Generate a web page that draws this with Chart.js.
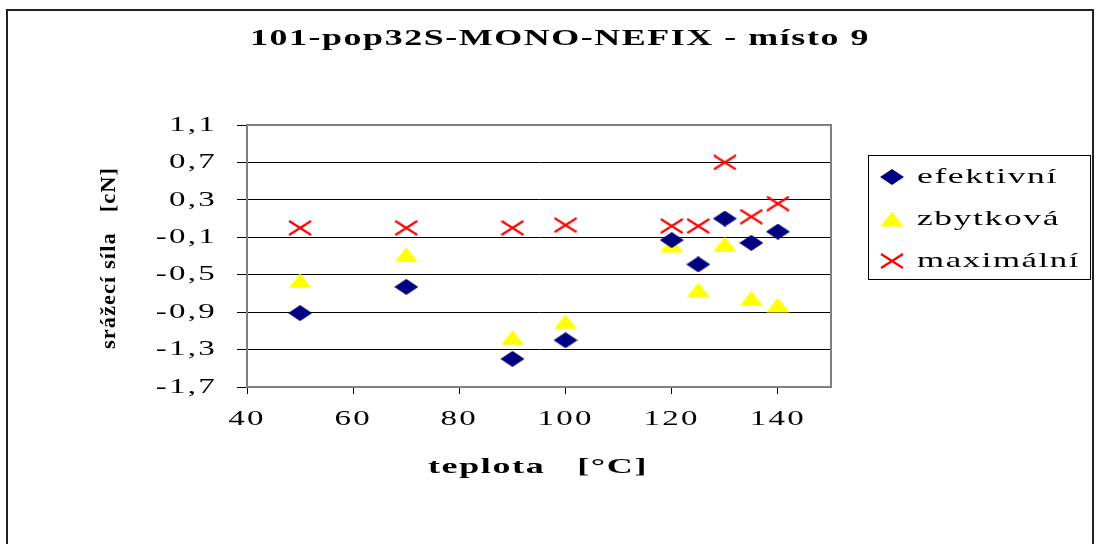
<!DOCTYPE html>
<html>
<head>
<meta charset="utf-8">
<script src="https://cdn.jsdelivr.net/npm/chart.js@4"></script>
<style>
  html, body { margin: 0; padding: 0; background: #fff; overflow: hidden; }
  #frame { position: absolute; left: 6px; top: 9px; width: 1084px; height: 560px; border: 2px solid #222; border-bottom: none; }
  canvas { position: absolute; left: 0; top: 0; }
</style>
</head>
<body>
<div id="frame"></div>
<canvas id="chart" width="1098" height="544"></canvas>
<script>
// data
const teplota = [50, 70, 90, 100, 120, 125, 130, 135, 140];
const efektivni = [-0.91, -0.63, -1.40, -1.20, -0.13, -0.39, 0.10, -0.16, -0.04];
const zbytkova = [-0.56, -0.28, -1.17, -1.00, -0.18, -0.66, -0.17, -0.75, -0.82];
const maximalni = [0.00, 0.00, 0.00, 0.03, 0.02, 0.02, 0.70, 0.12, 0.26];

const xTicks = [40, 60, 80, 100, 120, 140];
const yTicks = [-1.7, -1.3, -0.9, -0.5, -0.1, 0.3, 0.7, 1.1];

const seriesNames = ['efektivní', 'zbytková', 'maximální'];
const titleText = '101-pop32S-MONO-NEFIX - místo 9';
const xTitle = 'teplota   [°C]';
const yTitle = 'srážecí síla   [cN]';

const FONT = "'Liberation Serif', 'Times New Roman', serif";

// marker images (Excel markers are wider than tall)
function makeMarker(kind) {
    const c = document.createElement('canvas');
    c.width = 24; c.height = 16;
    const g = c.getContext('2d');
    if (kind === 'diamond') {
        g.fillStyle = '#000080';
        g.beginPath();
        g.moveTo(12, 0); g.lineTo(24, 8); g.lineTo(12, 16); g.lineTo(0, 8);
        g.closePath(); g.fill();
    } else if (kind === 'triangle') {
        g.fillStyle = '#ffff00';
        g.beginPath();
        g.moveTo(12, 1); g.lineTo(23.5, 15.5); g.lineTo(0.5, 15.5);
        g.closePath(); g.fill();
    } else {
        g.strokeStyle = '#ff0000';
        g.lineWidth = 2.2;
        g.beginPath();
        g.moveTo(1, 1); g.lineTo(23, 15);
        g.moveTo(23, 1); g.lineTo(1, 15);
        g.stroke();
    }
    return c;
}
const markers = [makeMarker('diamond'), makeMarker('triangle'), makeMarker('x')];

// draws text stretched horizontally to a given width (the old Excel look)
function wideText(ctx, text, x, y, width, font, align) {
    ctx.save();
    ctx.font = font;
    ctx.letterSpacing = '1px';
    const natural = ctx.measureText(text).width;
    const sx = width / natural;
    ctx.fillStyle = '#000';
    ctx.textBaseline = 'middle';
    ctx.textAlign = 'left';
    let start = x;
    if (align === 'center') start = x - width / 2;
    ctx.translate(start, y);
    ctx.scale(sx, 1);
    ctx.fillText(text, 0, 0);
    ctx.restore();
}

// tick labels are stretched the same way while the scales are drawn
const TICK_STRETCH = 1.5;
let plainFillText = null;

const plotFrame = {
    id: 'plotFrame',
    beforeDraw(chart) {
        const ctx = chart.ctx;
        plainFillText = ctx.fillText;
        ctx.fillText = function (t, x, y) {
            this.save();
            this.translate(x, y);
            this.scale(TICK_STRETCH, 1);
            plainFillText.call(this, t, 0, 0);
            this.restore();
        };
        ctx.letterSpacing = '1.5px';
    },
    beforeDatasetsDraw(chart) {
        const a = chart.chartArea;
        const ctx = chart.ctx;
        ctx.fillText = plainFillText;
        ctx.letterSpacing = '0px';
        ctx.save();
        ctx.strokeStyle = '#808080';
        ctx.lineWidth = 2;
        ctx.strokeRect(a.left, a.top, a.right - a.left, a.bottom - a.top);
        ctx.restore();
    },
    afterDraw(chart) {
        const ctx = chart.ctx;
        wideText(ctx, titleText, 560, 39, 620, 'bold 23px ' + FONT, 'center');
        wideText(ctx, xTitle, 538, 467, 220, 'bold 22px ' + FONT, 'center');

        ctx.save();
        ctx.translate(110, 258);
        ctx.rotate(-Math.PI / 2);
        wideText(ctx, yTitle, 0, 0, 182, 'bold 21px ' + FONT, 'center');
        ctx.restore();

        // legend
        ctx.save();
        ctx.strokeStyle = '#000';
        ctx.lineWidth = 1;
        ctx.strokeRect(868.5, 155.5, 222, 124);
        ctx.restore();
        const rows = [177, 219, 261];
        const widths = [141, 143, 163];
        chart.data.datasets.forEach((ds, i) => {
            const m = ds.pointStyle;
            ctx.drawImage(m, 892 - m.width / 2, rows[i] - m.height / 2);
            wideText(ctx, ds.label, 917, rows[i], widths[i], '22px ' + FONT, 'left');
        });
    }
};

const seriesValues = [efektivni, zbytkova, maximalni];

new Chart(document.getElementById('chart'), {
    type: 'scatter',
    data: {
        datasets: seriesValues.map((vals, i) => ({
            label: seriesNames[i],
            data: teplota.map((t, k) => ({ x: t, y: vals[k] })),
            pointStyle: markers[i],
            pointRadius: 10,
            pointHoverRadius: 10,
            showLine: false
        }))
    },
    options: {
        responsive: false,
        animation: false,
        devicePixelRatio: 1,
        layout: { padding: { left: 0, right: 267, top: 125, bottom: 0 } },
        plugins: {
            legend: { display: false },
            title: { display: false },
            tooltip: { enabled: false }
        },
        scales: {
            x: {
                type: 'linear',
                min: 40,
                max: 150,
                afterBuildTicks: s => { s.ticks = xTicks.map(v => ({ value: v })); },
                afterFit: s => { s.height = 157; },
                grid: { drawOnChartArea: false, drawTicks: true, tickLength: 7, color: '#000', tickColor: '#000' },
                border: { display: true, color: '#000', width: 1 },
                ticks: {
                    color: '#000',
                    padding: 12,
                    font: { family: FONT, size: 22 },
                    maxRotation: 0,
                    callback: v => String(v)
                }
            },
            y: {
                min: -1.7,
                max: 1.1,
                afterBuildTicks: s => { s.ticks = yTicks.map(v => ({ value: v })); },
                afterFit: s => { s.width = 247; },
                grid: { color: '#000', lineWidth: 1, drawTicks: true, tickLength: 10, tickColor: '#000' },
                border: { display: true, color: '#666', width: 2 },
                ticks: {
                    color: '#000',
                    padding: 20,
                    font: { family: FONT, size: 22 },
                    callback: v => v.toFixed(1).replace('.', ',')
                }
            }
        }
    },
    plugins: [plotFrame]
});
</script>
</body>
</html>
